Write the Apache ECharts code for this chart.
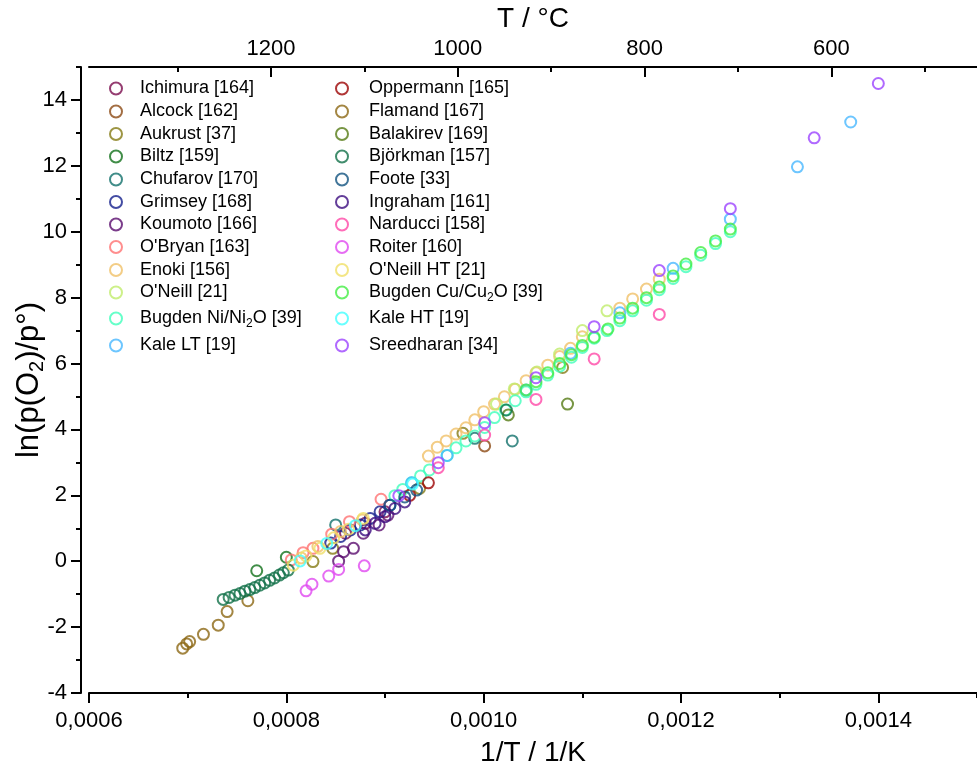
<!DOCTYPE html>
<html><head><meta charset="utf-8">
<script src="https://cdn.jsdelivr.net/npm/echarts@6/dist/echarts.min.js"></script>
<style>html,body{margin:0;padding:0;background:#fff}#c{width:977px;height:770px}</style>
</head><body><div id="c"></div>
<script>
// ---------- tick values & labels ----------
const xMajor = [0.0006, 0.0008, 0.0010, 0.0012, 0.0014];
const xMinor = [0.0007, 0.0009, 0.0011, 0.0013, 0.0015];
const xTickLabels = ['0,0006', '0,0008', '0,0010', '0,0012', '0,0014'];
const yMajor = [-4, -2, 0, 2, 4, 6, 8, 10, 12, 14];
const yMinor = [-3, -1, 1, 3, 5, 7, 9, 11, 13, 15];
const tMajor = [1200, 1000, 800, 600];
const tMinor = [1300, 1100, 900, 700, 500];

// ---------- series data [1/T (1/K), ln(pO2/p°)] ----------
const ichimura = [[0.00086,0.85],[0.00088,1.15],[0.0009,1.5]];
const alcock = [[0.001001,3.50]];
const aukrust = [[0.000827,-0.01],[0.000847,0.39],[0.000935,2.21],[0.000979,3.88],[0.00108,5.88]];
const biltz = [[0.00077,-0.29],[0.0008,0.12]];
const chufarov = [[0.00085,1.1],[0.000991,3.73],[0.001029,3.65]];
const grimsey = [[0.000845,0.55],[0.000855,0.75],[0.000865,0.95],[0.000875,1.1],[0.000885,1.3],[0.000895,1.5],[0.000905,1.7]];
const koumoto = [[0.000853,0.0],[0.000858,0.29],[0.000868,0.39],[0.000878,0.85],[0.000894,1.10],[0.000903,1.40]];
const obryan = [[0.000805,0.04],[0.000817,0.26],[0.000827,0.39],[0.000846,0.82],[0.000864,1.2],[0.000896,1.88]];
const enoki = [[0.000815,0.1],[0.000832,0.45],[0.000855,0.9],[0.000877,1.25],[0.000944,3.19],[0.000953,3.46],[0.000962,3.65],[0.000972,3.86],[0.000982,4.05],[0.000991,4.29],[0.001,4.54],[0.001011,4.77],[0.001021,4.99],[0.001032,5.22],[0.001043,5.48],[0.001053,5.72],[0.001065,5.95],[0.001077,6.21],[0.001088,6.46],[0.0011,6.81],[0.001138,7.68],[0.001151,7.96],[0.001165,8.26],[0.001178,8.56]];
const oneill = [[0.001013,4.77],[0.001031,5.23],[0.001054,5.74],[0.001077,6.29],[0.0011,7.0],[0.001125,7.60]];
const bugdenNi = [[0.00091,1.99],[0.000918,2.18],[0.000927,2.38],[0.000936,2.59],[0.000945,2.77],[0.000963,3.21],[0.000972,3.44],[0.000982,3.65],[0.000991,3.80],[0.001001,4.06],[0.001011,4.36],[0.001022,4.59],[0.001032,4.87],[0.001043,5.14],[0.001053,5.37],[0.001065,5.65],[0.001077,5.92],[0.001089,6.19],[0.0011,6.49],[0.001112,6.77],[0.001125,7.0],[0.001138,7.30],[0.001151,7.60],[0.001165,7.92],[0.001178,8.24],[0.001192,8.58],[0.001205,8.94],[0.00122,9.29],[0.001235,9.64],[0.00125,10.0]];
const kaleLT = [[0.000927,2.38],[0.000963,3.21],[0.001043,5.20],[0.001088,6.31],[0.001138,7.54],[0.001192,8.89],[0.00125,10.38],[0.001318,11.97],[0.001372,13.33]];
const oppermann = [[0.000925,2.0],[0.000944,2.38]];
const flamand = [[0.000695,-2.64],[0.000699,-2.51],[0.000702,-2.44],[0.000716,-2.22],[0.000731,-1.94],[0.00074,-1.53],[0.000761,-1.20]];
const balakirev = [[0.001025,4.44],[0.001085,4.77]];
const bjorkman = [[0.000736,-1.16],[0.000742,-1.10],[0.000748,-1.03],[0.000753,-0.98],[0.000758,-0.91],[0.000763,-0.86],[0.000768,-0.80],[0.000773,-0.73],[0.000778,-0.66],[0.000783,-0.58],[0.000788,-0.51],[0.000793,-0.42],[0.000797,-0.35],[0.000802,-0.27],[0.001023,4.59]];
const foote = [[0.000905,1.7],[0.00092,1.95],[0.000932,2.16]];
const ingraham = [[0.00088,0.95],[0.00089,1.15],[0.0009,1.35],[0.00091,1.6],[0.00092,1.8]];
const narducci = [[0.000954,2.84],[0.001001,3.83],[0.001053,4.91],[0.001112,6.14],[0.001178,7.49]];
const roiter = [[0.00082,-0.90],[0.000826,-0.70],[0.000843,-0.45],[0.000853,-0.25],[0.000879,-0.14]];
const oneillHT = [[0.000807,-0.12],[0.00082,0.16],[0.000834,0.39],[0.000848,0.71],[0.000863,0.97],[0.000878,1.30]];
const bugdenCu = [[0.001043,5.2],[0.001053,5.45],[0.001065,5.72],[0.001077,6.0],[0.001089,6.27],[0.0011,6.55],[0.001112,6.8],[0.001126,7.05],[0.001138,7.38],[0.001151,7.68],[0.001165,8.0],[0.001178,8.32],[0.001192,8.66],[0.001205,9.02],[0.00122,9.37],[0.001235,9.72],[0.00125,10.08]];
const kaleHT = [[0.000814,0.01],[0.000841,0.54],[0.00087,1.08],[0.000928,2.34]];
const sreedharan = [[0.000914,1.99],[0.000954,2.99],[0.001001,4.20],[0.001053,5.57],[0.001112,7.12],[0.001178,8.82],[0.00125,10.70],[0.001335,12.85],[0.0014,14.50]];

// ---------- series names / colours (draw order: left legend column, then right) ----------
const names = ['Ichimura [164]','Alcock [162]','Aukrust [37]','Biltz [159]','Chufarov [170]','Grimsey [168]','Koumoto [166]',"O'Bryan [163]",'Enoki [156]',"O'Neill [21]",'Bugden Ni/Ni2O [39]','Kale LT [19]',
  'Oppermann [165]','Flamand [167]','Balakirev [169]','Björkman [157]','Foote [33]','Ingraham [161]','Narducci [158]','Roiter [160]',"O'Neill HT [21]",'Bugden Cu/Cu2O [39]','Kale HT [19]','Sreedharan [34]'];
const labels = ['Ichimura [164]','Alcock [162]','Aukrust [37]','Biltz [159]','Chufarov [170]','Grimsey [168]','Koumoto [166]',"O'Bryan [163]",'Enoki [156]',"O'Neill [21]",'Bugden Ni/Ni{s|2}O [39]','Kale LT [19]',
  'Oppermann [165]','Flamand [167]','Balakirev [169]','Björkman [157]','Foote [33]','Ingraham [161]','Narducci [158]','Roiter [160]',"O'Neill HT [21]",'Bugden Cu/Cu{s|2}O [39]','Kale HT [19]','Sreedharan [34]'];
const colors = ['#7b0c4e','#8c4a14','#857a14','#12701a','#12706c','#141f8c','#5a0c6e','#ff7272','#f0c068','#c0ec6c','#40ffbc','#48b8ff',
  '#9c0404','#8c6814','#557a14','#127048','#125280','#3c0c80','#ff48a8','#e048f0','#f0e068','#44ee44','#44ffff','#9c44ff'];
const datasets = [ichimura, alcock, aukrust, biltz, chufarov, grimsey, koumoto, obryan, enoki, oneill, bugdenNi, kaleLT,
  oppermann, flamand, balakirev, bjorkman, foote, ingraham, narducci, roiter, oneillHT, bugdenCu, kaleHT, sreedharan];

const FONT = "'Liberation Sans', Arial, sans-serif";
const rowY = [88.5, 111.5, 134, 156.5, 179.5, 202, 224.5, 247, 270, 292.5, 318.5, 345.5];

const series = datasets.map((d, i) => ({
  type: 'scatter', name: names[i], data: d, xAxisIndex: 0, yAxisIndex: 0,
  symbol: 'circle', symbolSize: 11,
  itemStyle: { color: 'rgba(0,0,0,0)', borderColor: colors[i], borderWidth: 2 },
  emphasis: { disabled: true }, silent: true
}));

const legends = names.map((n, i) => {
  const col = i < 12 ? 0 : 1;
  const row = i % 12;
  const W = col === 0 ? 38 : 44;
  const cx = col === 0 ? 115 : 341;
  return {
    show: true, orient: 'vertical', left: cx - 6, top: rowY[row] - 11, padding: 0,
    itemWidth: W, itemHeight: 12, itemGap: 0, icon: 'circle', selectedMode: false,
    data: [{ name: n, itemStyle: { color: 'rgba(0,0,0,0)', borderColor: colors[i], borderWidth: 2 } }],
    formatter: () => labels[i],
    textStyle: { fontFamily: FONT, fontSize: 18, color: '#000', lineHeight: 22,
      rich: { s: { fontFamily: FONT, fontSize: 12, lineHeight: 12, verticalAlign: 'bottom', color: '#000' } } }
  };
});

const axisLine = { show: true, onZero: false, lineStyle: { color: '#000', width: 2 } };
const noLine = { show: false, onZero: false };
const option = {
  animation: false,
  backgroundColor: '#fff',
  grid: { left: 89, right: 0, top: 67, bottom: 77, containLabel: false, outerBoundsMode: 'none' },
  legend: legends,
  xAxis: [
    { type: 'value', position: 'bottom', min: 0.0006, max: 0.0015, axisLine: axisLine,
      axisTick: { show: true, customValues: xMajor, length: 10, lineStyle: { color: '#000', width: 2 } },
      axisLabel: { show: true, customValues: xMajor, margin: 17, fontSize: 22, fontFamily: FONT, color: '#000',
        formatter: v => { const k = xMajor.findIndex(m => Math.abs(m - v) < 1e-9); return k >= 0 ? xTickLabels[k] : ''; } },
      splitLine: { show: false },
      name: '1/T / 1/K', nameLocation: 'middle', nameGap: 46,
      nameTextStyle: { fontSize: 28, fontFamily: FONT, color: '#000' } },
    { type: 'value', position: 'bottom', min: 0.0006, max: 0.0015, axisLine: noLine,
      axisTick: { show: true, customValues: xMinor, length: 5, lineStyle: { color: '#000', width: 2 } },
      axisLabel: { show: false }, splitLine: { show: false } },
    { type: 'value', position: 'top', min: 444, max: 1395, inverse: true, axisLine: axisLine,
      axisTick: { show: true, inside: true, customValues: tMajor, length: 10, lineStyle: { color: '#000', width: 2 } },
      axisLabel: { show: true, customValues: tMajor, margin: 7, fontSize: 22, fontFamily: FONT, color: '#000',
        formatter: v => String(Math.round(v)) },
      splitLine: { show: false },
      name: 'T / °C', nameLocation: 'middle', nameGap: 33,
      nameTextStyle: { fontSize: 28, fontFamily: FONT, color: '#000' } },
    { type: 'value', position: 'top', min: 444, max: 1395, inverse: true, axisLine: noLine,
      axisTick: { show: true, inside: true, customValues: tMinor, length: 5, lineStyle: { color: '#000', width: 2 } },
      axisLabel: { show: false }, splitLine: { show: false } }
  ],
  yAxis: [
    { type: 'value', position: 'left', offset: 8, min: -4, max: 15, axisLine: axisLine,
      axisTick: { show: true, customValues: yMajor, length: 10, lineStyle: { color: '#000', width: 2 } },
      axisLabel: { show: true, customValues: yMajor, margin: 14, fontSize: 22, fontFamily: FONT, color: '#000' },
      splitLine: { show: false },
      name: 'ln(p(O{s|2})/p°)', nameLocation: 'middle', nameGap: 34, nameMoveOverlap: false,
      nameTextStyle: { fontSize: 31, fontFamily: FONT, color: '#000', lineHeight: 36,
        rich: { s: { fontSize: 20, fontFamily: FONT, lineHeight: 20, verticalAlign: 'bottom', color: '#000' } } } },
    { type: 'value', position: 'left', offset: 8, min: -4, max: 15, axisLine: noLine,
      axisTick: { show: true, customValues: yMinor, length: 5, lineStyle: { color: '#000', width: 2 } },
      axisLabel: { show: false }, splitLine: { show: false } }
  ],
  series: series
};
const chart = echarts.init(document.getElementById('c'), null, { renderer: 'canvas' });
chart.setOption(option);
</script></body></html>
